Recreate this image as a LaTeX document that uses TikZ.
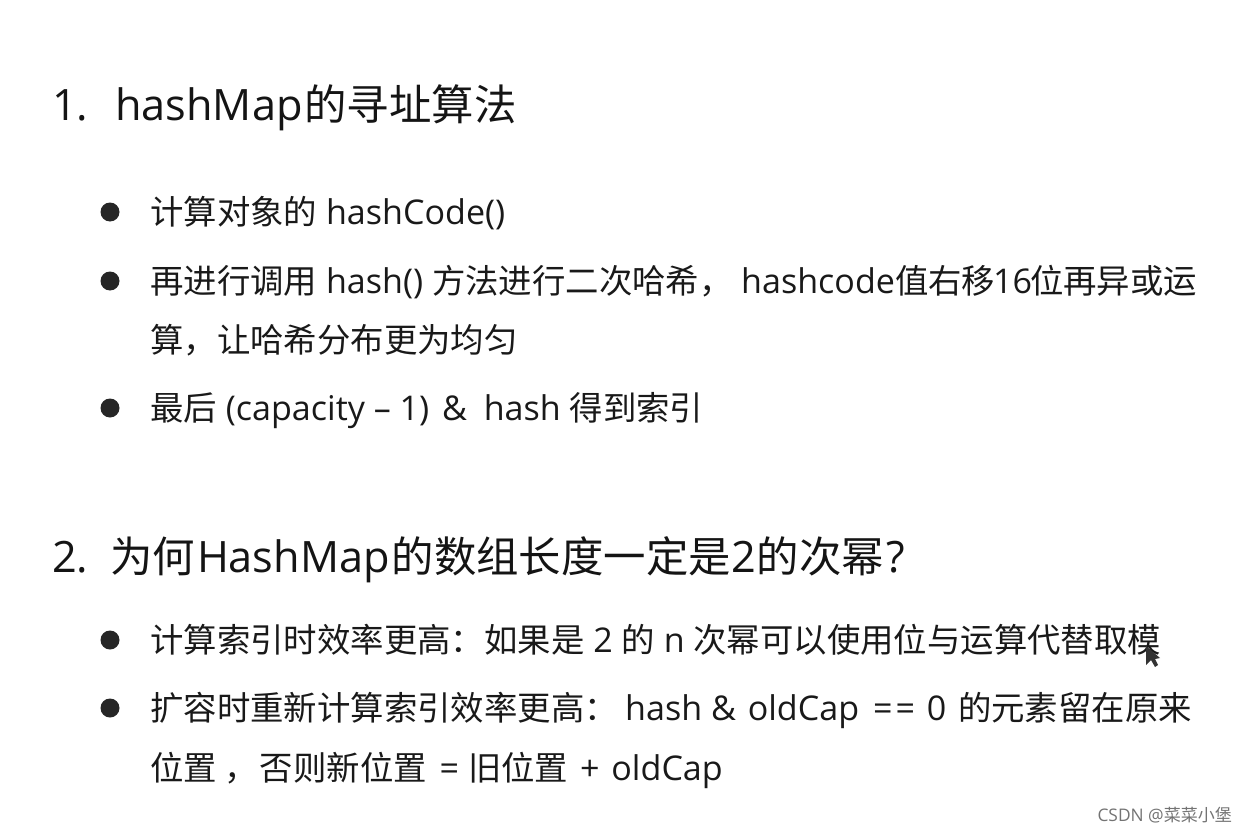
\documentclass[tikz,border=0pt]{standalone}
\usepackage{fontspec}
\setmainfont[Scale=1.02]{Open Sans}
\newfontfamily\cjk{Noto Sans CJK SC}
\newcommand{\zh}[1]{{\cjk #1}}
\newcommand{\gap}[1]{\hspace{#1pt}}
\usepackage{tikz}
\tikzset{
  headtext/.style={anchor=base west,inner sep=0pt,font=\fontsize{42.4}{48}\selectfont,text=black!92},
  itemtext/.style={anchor=base west,inner sep=0pt,font=\fontsize{33.4}{40}\selectfont,text=black!90},
  bulletdot/.style={circle,fill=black!85,inner sep=0pt,minimum size=19pt},
  marktext/.style={anchor=base east,inner sep=0pt,font=\fontsize{17}{20}\selectfont,text=black!55},
}
\begin{document}
\begin{tikzpicture}[x=1pt,y=1pt,yscale=-1]
\useasboundingbox (0,0) rectangle (1247,832);
% first heading
\node (headone) [headtext] at (52,121) {1.};
\node (headonetext) [headtext] at (115,121) {hashMap\gap{2}\zh{的寻址算法}};
% items of the first heading
\node (dotone) [bulletdot] at (110,212) {};
\node (itemone) [itemtext] at (150,224) {\zh{计算对象的} hashCode()};
\node (dottwo) [bulletdot] at (110,281) {};
\node (itemtwo) [itemtext] at (150,293) {\zh{再进行调用} hash() \zh{方法进行二次哈希，}};
\node (itemtwob) [itemtext] at (741,293) {hashcode\zh{值右移}\gap{-2}16\gap{-2}\zh{位再异或运}};
\node (itemtwoc) [itemtext] at (150,352) {\zh{算，让哈希分布更为均匀}};
\node (dotthree) [bulletdot] at (110,408) {};
\node (itemthree) [itemtext] at (150,420) {\zh{最后} (capacity – 1) \gap{4}\&\gap{8} hash \zh{得到索引}};
% second heading
\node (headtwo) [headtext] at (52,572) {2.};
\node (headtwotext) [headtext] at (110,572) {\zh{为何}\gap{2}HashMap\gap{2}\zh{的数组长度一定是}\gap{1}2\zh{的次幂}\gap{3}?};
% items of the second heading
\node (dotfour) [bulletdot] at (110,640) {};
\node (itemfour) [itemtext] at (150,652) {\zh{计算索引时效率更高：如果是} 2 \zh{的} n \zh{次幂可以使用位与运算代替取模}};
\node (dotfive) [bulletdot] at (110,708) {};
\node (itemfive) [itemtext] at (150,720) {\zh{扩容时重新计算索引效率更高：}};
\node (itemfiveb) [itemtext] at (625,720) {hash \& \gap{3}oldCap \gap{5}=\gap{3}= \gap{3}0 \gap{3}\zh{的元素留在原来}};
\node (itemfivec) [itemtext] at (150,780) {\zh{位置 ，}\gap{2}\zh{否则新位置} \gap{4}= \zh{旧位置} \gap{3}+ \gap{3}oldCap};
% cursor and mark
\fill[black!80] (1146,646) -- (1146,665) -- (1151,660) -- (1155,667) -- (1158,665) -- (1155,659) -- (1160,658) -- cycle;
\node (csdnmark) [marktext] at (1232,821) {CSDN @\zh{菜菜小堡}};
\end{tikzpicture}
\end{document}
